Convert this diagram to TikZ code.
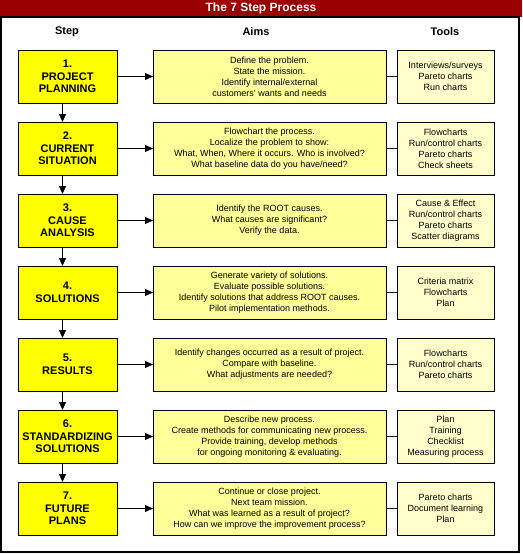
\documentclass[tikz,border=0pt]{standalone}
\usepackage{fontspec}
\setmainfont{Liberation Sans}
\usetikzlibrary{positioning,arrows.meta}

\definecolor{titlered}{RGB}{153,0,0}
\definecolor{stepyellow}{RGB}{255,255,0}
\definecolor{aimyellow}{RGB}{255,255,153}
\definecolor{toolyellow}{RGB}{255,255,204}

\tikzset{
  stepbox/.style={draw, fill=stepyellow, minimum width=99pt, minimum height=53pt,
    inner sep=0pt, outer sep=0pt, align=center, font=\fontsize{11}{12.5}\selectfont\bfseries},
  aimbox/.style={draw, fill=aimyellow, minimum width=233pt, minimum height=53pt,
    inner sep=0pt, outer sep=0pt, align=center, font=\fontsize{9}{11}\selectfont},
  toolbox/.style={draw, fill=toolyellow, minimum width=97pt, minimum height=53pt,
    inner sep=0pt, outer sep=0pt, align=center, font=\fontsize{9}{11}\selectfont},
  header/.style={font=\fontsize{11}{12}\selectfont\bfseries},
  flow/.style={-{Triangle[length=8pt,width=7pt]}},
}

\begin{document}
\begin{tikzpicture}[x=1pt, y=-1pt, line width=0.8pt]
 \useasboundingbox (0,0) rectangle (522,554);
 \fill[titlered] (0,0) rectangle (522,17);
 \draw[line width=1.5pt] (1,17) rectangle (519,552);
 \node[header, text=white, font=\fontsize{12}{13}\selectfont\bfseries] (title) at (261,8.5) {The 7 Step Process};
 \node[header] (hstep) at (67,32) {Step};
 \node[header] (haims) at (256,32) {Aims};
 \node[header] (htools) at (445,32) {Tools};

 \node[stepbox] (s1) at (67.5,76.5) {1.\\PROJECT\\PLANNING};
 \node[stepbox, below=19pt of s1] (s2) {2.\\CURRENT\\SITUATION};
 \node[stepbox, below=19pt of s2] (s3) {3.\\CAUSE\\ANALYSIS};
 \node[stepbox, below=19pt of s3] (s4) {4.\\SOLUTIONS};
 \node[stepbox, below=19pt of s4] (s5) {5.\\RESULTS};
 \node[stepbox, below=19pt of s5] (s6) {6.\\STANDARDIZING\\SOLUTIONS};
 \node[stepbox, below=19pt of s6] (s7) {7.\\FUTURE\\PLANS};

 \node[aimbox, right=36pt of s1] (a1) {Define the problem.\\State the mission.\\Identify internal/external\\customers' wants and needs};
 \node[aimbox, right=36pt of s2] (a2) {Flowchart the process.\\Localize the problem to show:\\What, When, Where it occurs. Who is involved?\\What baseline data do you have/need?};
 \node[aimbox, right=36pt of s3] (a3) {Identify the ROOT causes.\\What causes are significant?\\Verify the data.};
 \node[aimbox, right=36pt of s4] (a4) {Generate variety of solutions.\\Evaluate possible solutions.\\Identify solutions that address ROOT causes.\\Pilot implementation methods.};
 \node[aimbox, right=36pt of s5] (a5) {Identify changes occurred as a result of project.\\Compare with baseline.\\What adjustments are needed?};
 \node[aimbox, right=36pt of s6] (a6) {Describe new process.\\Create methods for communicating new process.\\Provide training, develop methods\\for ongoing monitoring \& evaluating.};
 \node[aimbox, right=36pt of s7] (a7) {Continue or close project.\\Next team mission.\\What was learned as a result of project?\\How can we improve the improvement process?};

 \node[toolbox, right=11pt of a1] (t1) {Interviews/surveys\\Pareto charts\\Run charts};
 \node[toolbox, right=11pt of a2] (t2) {Flowcharts\\Run/control charts\\Pareto charts\\Check sheets};
 \node[toolbox, right=11pt of a3] (t3) {Cause \& Effect\\Run/control charts\\Pareto charts\\Scatter diagrams};
 \node[toolbox, right=11pt of a4] (t4) {Criteria matrix\\Flowcharts\\Plan};
 \node[toolbox, right=11pt of a5] (t5) {Flowcharts\\Run/control charts\\Pareto charts};
 \node[toolbox, right=11pt of a6] (t6) {Plan\\Training\\Checklist\\Measuring process};
 \node[toolbox, right=11pt of a7] (t7) {Pareto charts\\Document learning\\Plan};

 \draw[flow] (s1) -- (a1);
 \draw[flow] (s2) -- (a2);
 \draw[flow] (s3) -- (a3);
 \draw[flow] (s4) -- (a4);
 \draw[flow] (s5) -- (a5);
 \draw[flow] (s6) -- (a6);
 \draw[flow] (s7) -- (a7);
 \draw (a1) -- (t1);
 \draw (a2) -- (t2);
 \draw (a3) -- (t3);
 \draw (a4) -- (t4);
 \draw (a5) -- (t5);
 \draw (a6) -- (t6);
 \draw (a7) -- (t7);
 \draw[flow] ([xshift=-5pt]s1.south) -- ([xshift=-5pt]s2.north);
 \draw[flow] ([xshift=-5pt]s2.south) -- ([xshift=-5pt]s3.north);
 \draw[flow] ([xshift=-5pt]s3.south) -- ([xshift=-5pt]s4.north);
 \draw[flow] ([xshift=-5pt]s4.south) -- ([xshift=-5pt]s5.north);
 \draw[flow] ([xshift=-5pt]s5.south) -- ([xshift=-5pt]s6.north);
 \draw[flow] ([xshift=-5pt]s6.south) -- ([xshift=-5pt]s7.north);
\end{tikzpicture}
\end{document}
